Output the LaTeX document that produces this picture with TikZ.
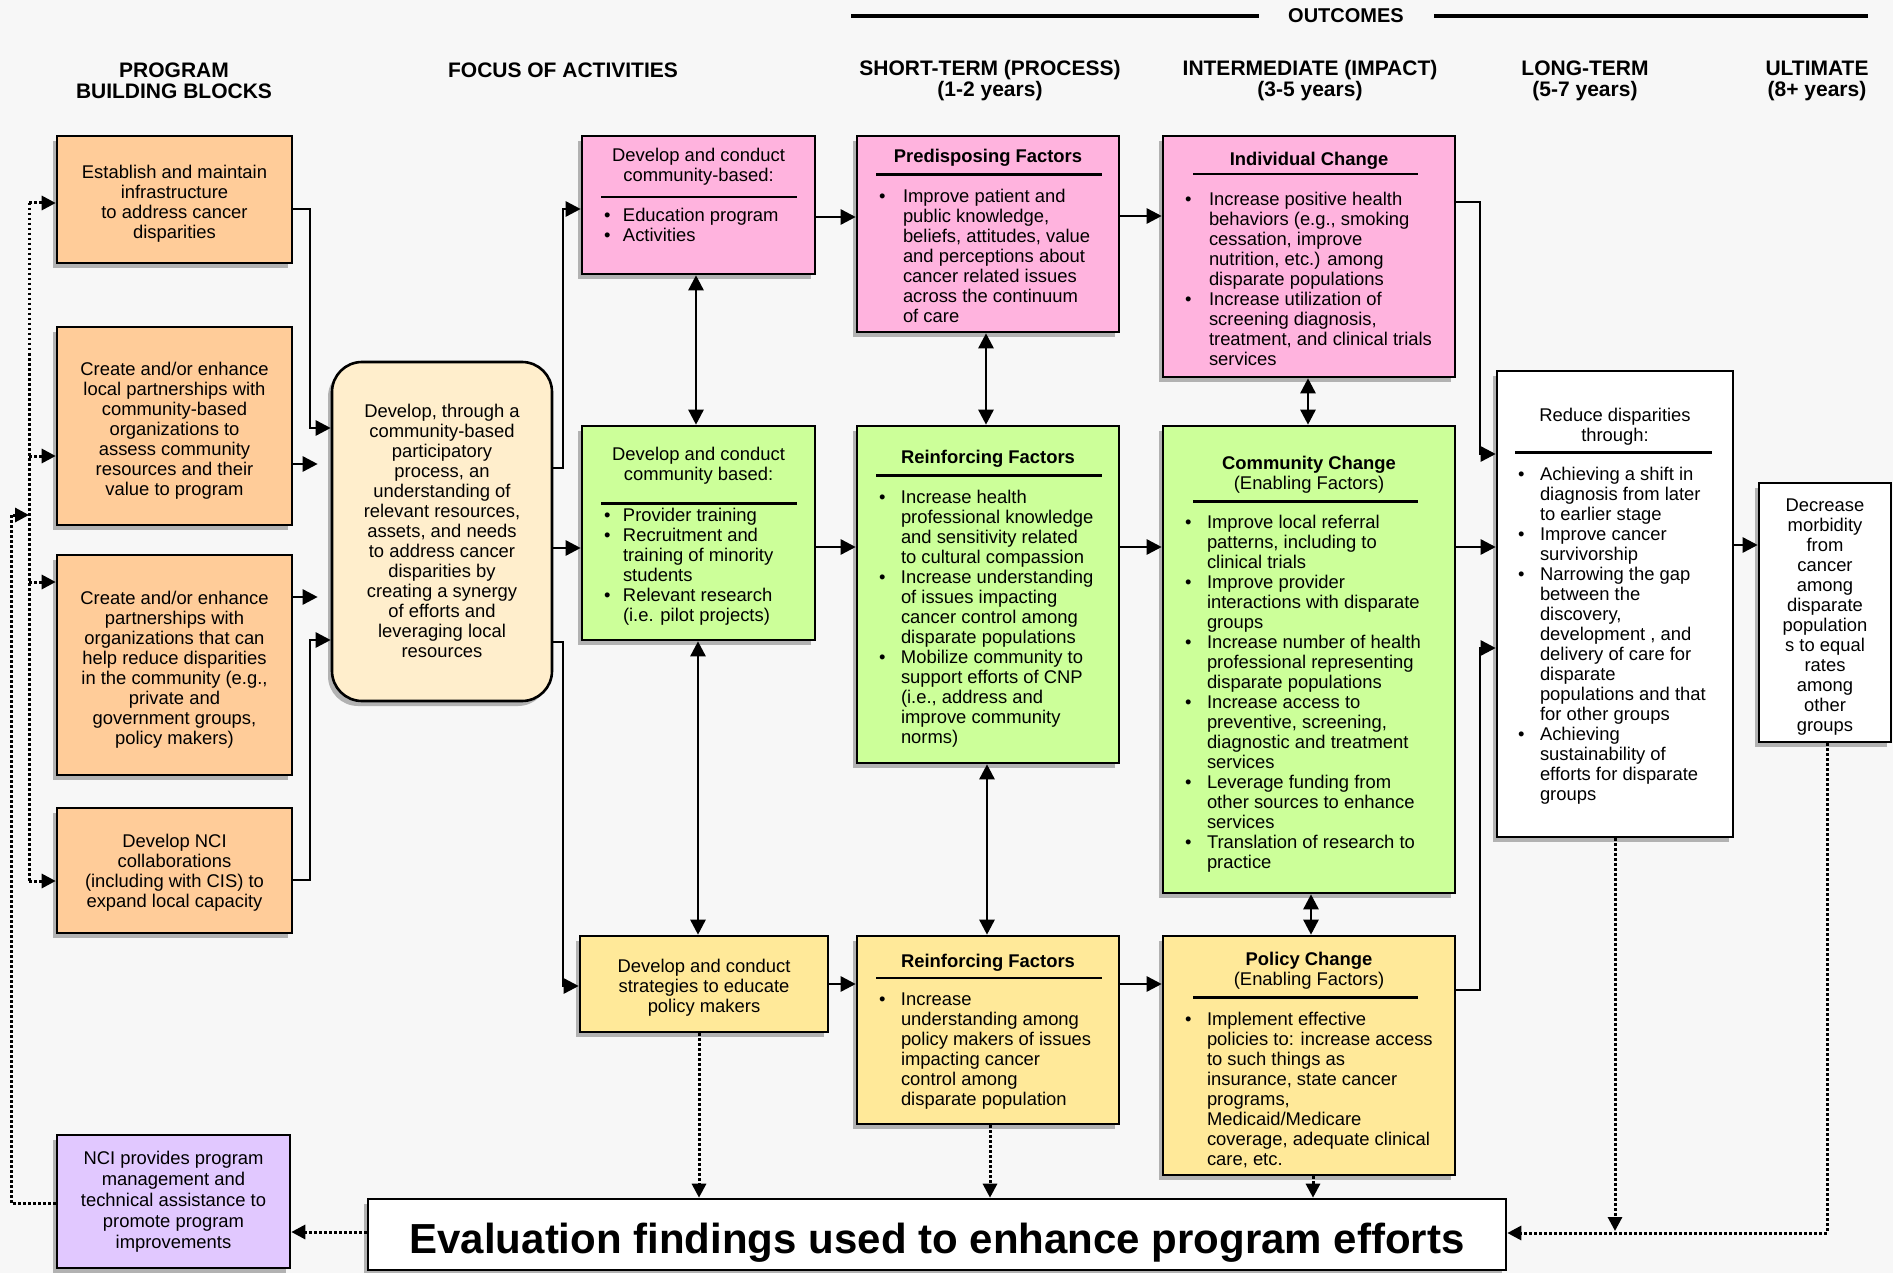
\documentclass[tikz,border=0pt]{standalone}
\usepackage{fontspec}
\setmainfont{Liberation Sans}
\usetikzlibrary{arrows.meta,shadows}
\definecolor{bg}{HTML}{F7F7F7}
\definecolor{org}{HTML}{FFCC99}
\definecolor{pnk}{HTML}{FFB3DE}
\definecolor{grn}{HTML}{CCFF99}
\definecolor{ylw}{HTML}{FFE999}
\definecolor{crm}{HTML}{FFEECC}
\definecolor{prp}{HTML}{E1C8FF}
\newlength\bulind
\newlength\txtind
% box: name, style, x1, y1, x2, y2, top offset, content
\newcommand\bx[8]{%
  \node[#2] (#1) at ({(#3+#5)/2},{(#4+#6)/2})
  {\parbox[c][\dimexpr#6pt-#4pt\relax][t]{\dimexpr#5pt-#3pt\relax}{%
    \fontsize{18.4}{20}\selectfont\raggedright\vspace*{#7pt}#8}};}
\newcommand\ctext[1]{{\centering #1\par}}
\newcommand\trule[4]{\par\vskip\dimexpr#1pt-\prevdepth\relax\nointerlineskip
  \moveright#2pt\hbox{\rule{#3pt}{2.5pt}}\nointerlineskip\vskip#4pt\relax}
\newcommand\bi[1]{\par\hangindent=\txtind\hangafter=1\noindent
  \hspace*{\bulind}\makebox[\dimexpr\txtind-\bulind\relax][l]{\textbullet}%
  {\let\\\newline #1}\par}
\tikzset{
  boxbase/.style={draw=black, line width=2.6pt, inner sep=0pt,
    drop shadow={shadow xshift=-4pt, shadow yshift=-5pt, fill=black!30, opacity=1}},
  obox/.style={boxbase, fill=org},
  kbox/.style={boxbase, fill=pnk},
  gbox/.style={boxbase, fill=grn},
  ybox/.style={boxbase, fill=ylw},
  pbox/.style={boxbase, fill=prp},
  wbox/.style={boxbase, fill=white},
  rbox/.style={boxbase, fill=crm, rounded corners=30pt},
  hdr/.style={font=\fontsize{21}{21}\selectfont\bfseries, align=center, inner sep=0pt},
  arr/.style={line width=2.6pt, -{Triangle[length=15pt,width=15pt]}},
  darr/.style={line width=2.6pt, {Triangle[length=15pt,width=15pt]}-{Triangle[length=15pt,width=15pt]}},
  dot/.style={line width=3pt, dash pattern=on 2.5pt off 2.5pt},
  dotarr/.style={dot, -{Triangle[length=14pt,width=14pt]}},
}
\begin{document}
\begin{tikzpicture}[x=1pt, y=-1pt]
\useasboundingbox (0,0) rectangle (1893,1273);
\fill[bg] (0,0) rectangle (1893,1273);

% headers
\node[font=\fontsize{20}{20}\selectfont\bfseries, inner sep=0pt] (hout) at (1346,16) {OUTCOMES};
\draw[line width=4pt] (851,16) -- (1259,16);
\draw[line width=4pt] (1434,16) -- (1868,16);
\node[hdr] (hpb) at (174,80.5) {PROGRAM\\BUILDING BLOCKS};
\node[hdr] (hfa) at (563,70) {FOCUS OF ACTIVITIES};
\node[hdr] (hst) at (990,80.5) {SHORT-TERM (PROCESS)\\(1-2 years)};
\node[hdr] (him) at (1310,80.5) {INTERMEDIATE (IMPACT)\\(3-5 years)};
\node[hdr] (hlt) at (1585,80.5) {LONG-TERM\\(5-7 years)};
\node[hdr] (hul) at (1817,80.5) {ULTIMATE\\(8+ years)};

% building blocks
\bx{b1}{obox}{57}{136}{292}{263}{29}{\ctext{Establish and maintain\\infrastructure\\to address cancer\\disparities}}
\bx{b2}{obox}{57}{327}{292}{525}{35}{\ctext{Create and/or enhance\\local partnerships with\\community-based\\organizations to\\assess community\\resources and their\\value to program}}
\bx{b3}{obox}{57}{555}{292}{775}{36}{\ctext{Create and/or enhance\\partnerships with\\organizations that can\\help reduce disparities\\in the community (e.g.,\\private and\\government groups,\\policy makers)}}
\bx{b4}{obox}{57}{808}{292}{933}{26}{\ctext{Develop NCI\\collaborations\\(including with CIS) to\\expand local capacity}}
\bx{nci}{pbox}{57}{1135}{290}{1268}{16}{\fontsize{18.4}{21}\selectfont\ctext{NCI provides program\\management and\\technical assistance to\\promote program\\improvements}}

% focus
\bx{rr}{rbox}{332}{362}{552}{701}{42}{\ctext{Develop, through a\\community-based\\participatory\\process, an\\understanding of\\relevant resources,\\assets, and needs\\to address cancer\\disparities by\\creating a synergy\\of efforts and\\leveraging local\\resources}}

\bx{a1}{kbox}{582}{136}{815}{274}{12}{\ctext{Develop and conduct\\community-based:}\trule{14.4}{19}{196}{9.5}\setlength\bulind{22pt}\setlength\txtind{41pt}\bi{Education program}\bi{Activities}}
\bx{a2}{gbox}{582}{426}{815}{640}{21.5}{\ctext{Develop and conduct\\community based:}\trule{21.5}{19}{196}{3.3}\setlength\bulind{22pt}\setlength\txtind{41pt}\bi{Provider training}\bi{Recruitment and\\training of minority\\students}\bi{Relevant research\\(i.e. pilot projects)}}
\bx{a3}{ybox}{580}{936}{828}{1032}{23.4}{\ctext{Develop and conduct\\strategies to educate\\policy makers}}

% short term
\bx{pred}{kbox}{857}{136}{1119}{332}{13.4}{\ctext{\bfseries Predisposing Factors}\trule{10.5}{19}{226}{13}\setlength\bulind{22pt}\setlength\txtind{46pt}\bi{Improve patient and\\public knowledge,\\beliefs, attitudes, value\\and perceptions about\\cancer related issues\\across the continuum\\of care}}
\bx{reing}{gbox}{857}{426}{1119}{763}{24.4}{\ctext{\bfseries Reinforcing Factors}\trule{10.5}{19}{226}{13.4}\setlength\bulind{22pt}\setlength\txtind{44pt}\bi{Increase health\\professional knowledge\\and sensitivity related\\to cultural compassion}\bi{Increase understanding\\of issues impacting\\cancer control among\\disparate populations}\bi{Mobilize community to\\support efforts of CNP\\(i.e., address and\\improve community\\norms)}}
\bx{reiny}{ybox}{857}{936}{1119}{1124}{18.2}{\ctext{\bfseries Reinforcing Factors}\trule{9}{19}{226}{14.2}\setlength\bulind{22pt}\setlength\txtind{44pt}\bi{Increase\\understanding among\\policy makers of issues\\impacting cancer\\control among\\disparate population}}

% intermediate
\bx{indiv}{kbox}{1163}{136}{1455}{377}{16.4}{\ctext{\bfseries Individual Change}\trule{7}{30}{225}{16.8}\setlength\bulind{22pt}\setlength\txtind{46pt}\bi{Increase positive health\\behaviors (e.g., smoking\\cessation, improve\\nutrition, etc.) among\\disparate populations}\bi{Increase utilization of\\screening diagnosis,\\treatment, and clinical trials\\services}}
\bx{comm}{gbox}{1163}{426}{1455}{893}{29.7}{\ctext{\textbf{Community Change}\\(Enabling Factors)}\trule{11}{30}{225}{12.8}\setlength\bulind{22pt}\setlength\txtind{44pt}\bi{Improve local referral\\patterns, including to\\clinical trials}\bi{Improve provider\\interactions with disparate\\groups}\bi{Increase number of health\\professional representing\\disparate populations}\bi{Increase access to\\preventive, screening,\\diagnostic and treatment\\services}\bi{Leverage funding from\\other sources to enhance\\services}\bi{Translation of research to\\practice}}
\bx{policy}{ybox}{1163}{936}{1455}{1175}{16.4}{\ctext{\textbf{Policy Change}\\(Enabling Factors)}\trule{10.5}{30}{225}{13.4}\setlength\bulind{22pt}\setlength\txtind{44pt}\bi{Implement effective\\policies to: increase access\\to such things as\\insurance, state cancer\\programs,\\Medicaid/Medicare\\coverage, adequate clinical\\care, etc.}}

% long term / ultimate
\bx{reduce}{wbox}{1497}{371}{1733}{837}{37.4}{\ctext{Reduce disparities\\through:}\trule{9.7}{18}{197}{13.5}\setlength\bulind{21pt}\setlength\txtind{43pt}\bi{Achieving a shift in\\diagnosis from later\\to earlier stage}\bi{Improve cancer\\survivorship}\bi{Narrowing the gap\\between the\\discovery,\\development , and\\delivery of care for\\disparate\\populations and that\\for other groups}\bi{Achieving\\sustainability of\\efforts for disparate\\groups}}
\bx{decr}{wbox}{1759}{483}{1891}{742}{15.4}{\ctext{Decrease\\morbidity\\from\\cancer\\among\\disparate\\population\\s to equal\\rates\\among\\other\\groups}}

\bx{eval}{wbox}{368}{1199}{1506}{1270}{24.3}{\fontsize{42}{48}\selectfont\bfseries\ctext{Evaluation findings used to enhance program efforts}}

% solid connectors
\draw[arr] (b1.east |- 0,209) -| (310,428) -- (rr.west |- 0,428);
\draw[arr, shorten >=13pt] (b2.east |- 0,464) -- (rr.west |- 0,464);
\draw[arr, shorten >=13pt] (b3.east |- 0,597) -- (rr.west |- 0,597);
\draw[arr] (b4.east |- 0,880) -| (310,640) -- (rr.west |- 0,640);
\draw[arr] (rr.east |- 0,468) -| (563,209) -- (a1.west |- 0,209);
\draw[arr] (rr.east |- 0,548) -- (a2.west |- 0,548);
\draw[arr] (rr.east |- 0,642) -| (563,986) -- (a3.west |- 0,986);
\draw[arr] (a1.east |- 0,217) -- (pred.west |- 0,217);
\draw[arr] (a2.east |- 0,547) -- (reing.west |- 0,547);
\draw[arr] (a3.east |- 0,984) -- (reiny.west |- 0,984);
\draw[arr] (pred.east |- 0,216) -- (indiv.west |- 0,216);
\draw[arr] (reing.east |- 0,547) -- (comm.west |- 0,547);
\draw[arr] (reiny.east |- 0,984) -- (policy.west |- 0,984);
\draw[arr] (indiv.east |- 0,202) -| (1480,454) -- (reduce.west |- 0,454);
\draw[arr] (comm.east |- 0,547) -- (reduce.west |- 0,547);
\draw[arr] (policy.east |- 0,990) -| (1480,648) -- (reduce.west |- 0,648);
\draw[arr] (reduce.east |- 0,545) -- (decr.west |- 0,545);

% double arrows
\draw[darr] (a1.south -| 696,0) -- (a2.north -| 696,0);
\draw[darr] (a2.south -| 698,0) -- (a3.north -| 698,0);
\draw[darr] (pred.south -| 986,0) -- (reing.north -| 986,0);
\draw[darr] (reing.south -| 987,0) -- (reiny.north -| 987,0);
\draw[darr] (indiv.south -| 1308,0) -- (comm.north -| 1308,0);
\draw[darr] (comm.south -| 1311,0) -- (policy.north -| 1311,0);

% dotted feedback
\draw[dotarr] (a3.south -| 699,0) -- (eval.north -| 699,0);
\draw[dotarr] (reiny.south -| 990,0) -- (eval.north -| 990,0);
\draw[dotarr] (policy.south -| 1313,0) -- (eval.north -| 1313,0);
\draw[dotarr] (reduce.south) -- (reduce.south |- 0,1231);
\draw[dotarr] (decr.south -| 1827,0) -- (1827,1233) -- (eval.east |- 0,1233);
\draw[dotarr] (eval.west |- 0,1232) -- (nci.east |- 0,1232);

\coordinate (busT) at (29,203);
\coordinate (busB) at (29,881);
\coordinate (busM) at (29,515);
\draw[dot] (busT) -- (busB);
\draw[dotarr] (busT) -- (b1.west |- busT);
\draw[dotarr] (busT |- 0,456) -- (b2.west |- 0,456);
\draw[dotarr] (busT |- 0,582) -- (b3.west |- 0,582);
\draw[dotarr] (busB) -- (b4.west |- busB);
\draw[dotarr] (nci.west |- 0,1203) -- (11,1203) -- (11,515) -- (busM);
\end{tikzpicture}
\end{document}
